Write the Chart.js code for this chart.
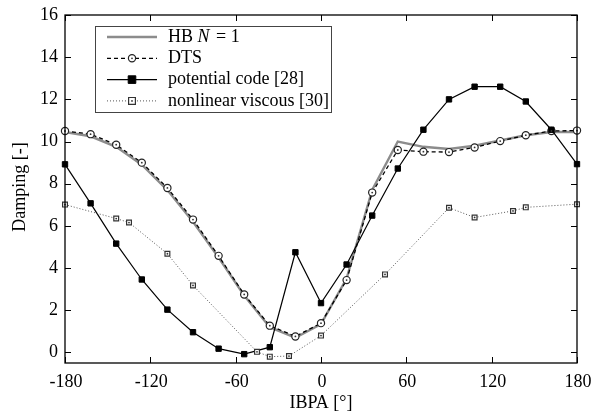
<!DOCTYPE html>
<html><head><meta charset="utf-8">
<script src="https://cdn.jsdelivr.net/npm/chart.js@4/dist/chart.umd.min.js"></script>
<style>html,body{margin:0;padding:0;background:#fff}#wrap{width:595px;height:415px}</style>
</head><body><div id="wrap"><canvas id="c" width="595" height="415"></canvas></div>
<script>
const angles = [-180,-162,-144,-126,-108,-90,-72,-54,-36,-18,0,18,36,54,72,90,108,126,144,162,180];
const hbDamping = [10.45,10.25,9.75,8.9,7.7,6.2,4.5,2.7,1.2,0.7,1.35,3.5,7.7,10.0,9.75,9.65,9.8,10.05,10.3,10.45,10.45];
const dtsDamping = [10.5,10.35,9.85,9.0,7.8,6.3,4.58,2.75,1.27,0.76,1.39,3.43,7.58,9.6,9.52,9.5,9.72,10.02,10.3,10.5,10.52];
const potentialDamping = [8.92,7.07,5.16,3.46,2.03,0.96,0.18,-0.08,0.25,4.75,2.34,4.17,6.49,8.72,10.56,12.0,12.6,12.6,11.9,10.56,8.93];
const viscousAngles = [-180,-144,-135,-108,-90,-45,-36,-22.5,0,45,90,108,135,144,180];
const viscousDamping = [7.01,6.35,6.16,4.68,3.18,0.03,-0.2,-0.17,0.8,3.7,6.86,6.4,6.71,6.88,7.03];
const xTicks = [-180,-120,-60,0,60,120,180];
const yTicks = [0,2,4,6,8,10,12,14,16];
const seriesLabels = ['HB N = 1','DTS','potential code [28]','nonlinear viscous [30]'];

const FONT = '"Liberation Serif", "DejaVu Serif", serif';
const pts = (xs, ys) => xs.map((x,i)=>({x:x, y:ys[i]}));

function centerDot(ctx,x,y){ctx.beginPath();ctx.arc(x,y,0.9,0,2*Math.PI);ctx.fill();}

const framePlugin = {
  id:'frame',
  afterDatasetsDraw(chart){
    const {ctx, chartArea:a, scales:{x,y}} = chart;
    ctx.save();
    // center dots of hollow markers
    ctx.fillStyle='#333';
    [1,3].forEach(i=>chart.getDatasetMeta(i).data.forEach(el=>centerDot(ctx,el.x,el.y)));
    ctx.strokeStyle='#000'; ctx.lineWidth=1.3;
    ctx.strokeRect(a.left, a.top, a.right-a.left, a.bottom-a.top);
    ctx.lineWidth=1;
    const tl=6;
    ctx.beginPath();
    xTicks.forEach(v=>{const px=Math.round(x.getPixelForValue(v))+0.5;
      ctx.moveTo(px,a.bottom); ctx.lineTo(px,a.bottom-tl);
      ctx.moveTo(px,a.top); ctx.lineTo(px,a.top+tl);});
    yTicks.forEach(v=>{const py=Math.round(y.getPixelForValue(v))+0.5;
      ctx.moveTo(a.left,py); ctx.lineTo(a.left+tl,py);
      ctx.moveTo(a.right,py); ctx.lineTo(a.right-tl,py);});
    ctx.stroke();
    ctx.fillStyle='#000';
    ctx.font='18px '+FONT;
    ctx.textAlign='center'; ctx.textBaseline='middle';
    xTicks.forEach(v=>ctx.fillText(String(v), x.getPixelForValue(v)+1, a.bottom+19));
    ctx.textAlign='right';
    yTicks.forEach(v=>ctx.fillText(String(v), a.left-7, y.getPixelForValue(v)));
    ctx.textAlign='center';
    ctx.fillText('IBPA [°]', (a.left+a.right)/2, a.bottom+40);
    ctx.save();
    ctx.translate(20,(a.top+a.bottom)/2-2); ctx.rotate(-Math.PI/2);
    ctx.fillText('Damping [-]',0,0);
    ctx.restore();

    // legend
    const bx=95, by=26, bw=236, bh=86;
    ctx.fillStyle='#fff'; ctx.fillRect(bx,by,bw,bh);
    ctx.strokeStyle='#444'; ctx.lineWidth=1;
    ctx.strokeRect(bx+0.5,by+0.5,bw,bh);
    chart.data.datasets.forEach((ds,i)=>{
      const yy = by+11+i*21.3;
      ctx.save();
      ctx.strokeStyle=ds.borderColor; ctx.lineWidth=ds.borderWidth;
      ctx.setLineDash(ds.borderDash||[]);
      ctx.beginPath(); ctx.moveTo(107,yy); ctx.lineTo(157,yy); ctx.stroke();
      ctx.setLineDash([]);
      if(ds.pointRadius>0){
        ctx.fillStyle=ds.pointBackgroundColor; ctx.strokeStyle=ds.pointBorderColor; ctx.lineWidth=ds.pointBorderWidth;
        ctx.beginPath();
        if(ds.pointStyle==='circle'){ctx.arc(132,yy,ds.pointRadius,0,2*Math.PI);} else {const r=ds.pointRadius; ctx.rect(132-r,yy-r,2*r,2*r);}
        ctx.fill(); ctx.stroke();
        if(ds.pointBackgroundColor==='#fff'){ctx.fillStyle='#333'; centerDot(ctx,132,yy);}
      }
      ctx.restore();
      ctx.fillStyle='#000'; ctx.textAlign='left'; ctx.textBaseline='middle';
      ctx.font='18px '+FONT;
      const lab=ds.label;
      if(lab.indexOf(' N ')>=0){
        const parts=lab.split(' N ');
        let xx=168;
        ctx.fillText(parts[0]+' ',xx,yy); xx+=ctx.measureText(parts[0]+' ').width;
        ctx.font='italic 18px '+FONT;
        ctx.fillText('N',xx,yy); xx+=ctx.measureText('N ').width;
        ctx.font='18px '+FONT;
        ctx.fillText(parts[1],xx+2,yy);
      } else ctx.fillText(lab,168,yy);
    });
    ctx.restore();
  }
};

new Chart(document.getElementById('c'),{
  type:'line',
  data:{datasets:[
    {label:seriesLabels[0], data:pts(angles,hbDamping), borderColor:'#8c8c8c', borderWidth:2.4, pointRadius:0, pointStyle:'line', order:4, clip:false},
    {label:seriesLabels[1], data:pts(angles,dtsDamping), borderColor:'#000', borderWidth:1.3, borderDash:[4,3], pointStyle:'circle', pointRadius:3.6, pointBorderWidth:1.2, pointBorderColor:'#222', pointBackgroundColor:'#fff', order:3, clip:false},
    {label:seriesLabels[2], data:pts(angles,potentialDamping), borderColor:'#000', borderWidth:1.2, pointStyle:'rect', pointRadius:3.8, pointBorderWidth:1, pointBorderColor:'#000', pointBackgroundColor:'#000', order:2, clip:false},
    {label:seriesLabels[3], data:pts(viscousAngles,viscousDamping), borderColor:'#555', borderWidth:1, borderDash:[1,2], pointStyle:'rect', pointRadius:3.4, pointBorderWidth:1.2, pointBorderColor:'#333', pointBackgroundColor:'#fff', order:1, clip:false}
  ]},
  options:{
    responsive:false, animation:false, devicePixelRatio:1,
    layout:{padding:{left:65,right:18,top:15,bottom:52}},
    plugins:{legend:{display:false}, tooltip:{enabled:false}},
    elements:{line:{tension:0}},
    scales:{
      x:{type:'linear', min:-180, max:180, display:false},
      y:{type:'linear', min:-0.5, max:16, display:false}
    }
  },
  plugins:[framePlugin]
});
</script></body></html>
